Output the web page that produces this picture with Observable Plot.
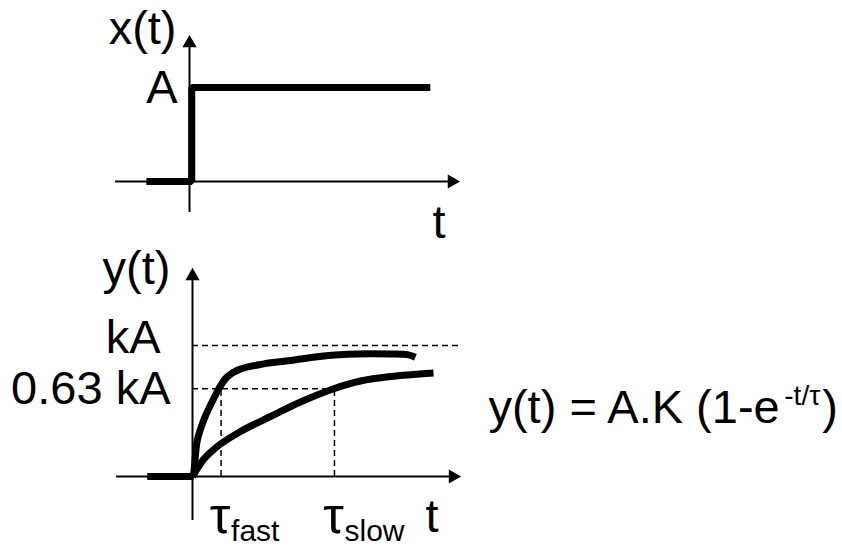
<!DOCTYPE html>
<html><head><meta charset="utf-8">
<script src="https://cdn.jsdelivr.net/npm/d3@7"></script>
<script src="https://cdn.jsdelivr.net/npm/@observablehq/plot@0.6"></script>
<style>body{margin:0;background:#fff} #chart{width:842px;height:547px;overflow:hidden} #chart svg{display:block}</style>
</head><body><div id="chart"></div>
<script>
// ---- data (time in units of tau_fast, amplitude in units of A / kA) ----
const stepT = [-1.54, 0.08, 0.08, 8.6];
const stepX = [0, 0, 1, 1];
const baseT = [-1.6, 0.05];
const fastT = [0, 0.04, 0.17, 0.40, 0.70, 0.94, 1.24, 1.71, 2.55, 3.5, 4.69, 5.88, 7.07, 7.67, 7.96];
const fastY = [0, 0.023, 0.275, 0.43, 0.57, 0.67, 0.76, 0.82, 0.86, 0.885, 0.92, 0.935, 0.935, 0.93, 0.91];
const slowT = [0, 0.393, 0.714, 1.0, 1.714, 2.786, 3.857, 5.071, 6.0, 7.071, 8.607];
const slowY = [0, 0.130, 0.198, 0.248, 0.344, 0.458, 0.569, 0.672, 0.729, 0.763, 0.790];
const levels = [1, 0.67];
const levelLabels = ["kA", "0.63 kA"];
const tauT = [1.02, 5.07];
const tauSubs = ["fast", "slow"];
const formulaParts = ["y(t) = A.K (1-e", "-t/τ", ")"];

const FONT = "'Liberation Sans', Arial, Helvetica, sans-serif";
const FS = 47, SUB = 30, SUP = 28;

const ctx = document.createElement("canvas").getContext("2d");
function tw(s, size) { ctx.font = `${size}px ${FONT}`; return ctx.measureText(s).width; }

const stepData = stepT.map((t, i) => ({t, v: stepX[i]}));
const fastData = fastT.map((t, i) => ({t, v: fastY[i]}));
const slowData = slowT.map((t, i) => ({t, v: slowY[i]}));

const arrow = (x, y, rot) => Plot.dot([0], {x, y, symbol: "triangle2", r: 6.8, rotate: rot, fill: "black"});
const txt = (s, o) => Plot.text([s], {text: d => d, fill: "black", fontSize: FS, ...o});

const topPlot = Plot.plot({
  width: 842, height: 252, margin: 0,
  x: {domain: [-6.75, 23.32], range: [0, 842], axis: null},
  y: {domain: [0, 1], range: [181, 87], axis: null},
  style: {fontFamily: FONT, background: "white", color: "black"},
  marks: [
    Plot.ruleY([0], {x1: -2.64, x2: 9.37, stroke: "black", strokeWidth: 2}),
    Plot.ruleX([0], {y1: -0.33, y2: 1.47, stroke: "black", strokeWidth: 2}),
    arrow(9.37, 0, 90),
    arrow(0, 1.472, 0),
    Plot.line(stepData, {x: "t", y: "v", stroke: "black", strokeWidth: 7, strokeLinejoin: "miter", strokeLinecap: "butt"}),
    txt("x(t)", {x: 0, y: 1.468, dx: -13, textAnchor: "end", lineAnchor: "bottom"}),
    txt("A", {x: 0, y: 1, dx: -12, textAnchor: "end", lineAnchor: "middle"}),
    txt("t", {x: 8.68, y: -0.596, textAnchor: "start", lineAnchor: "bottom"})
  ]
});

const w1 = tw(formulaParts[0], FS), w2 = tw(formulaParts[1], SUP);
const fx = 10.57, fy = 0.405;

const bottomPlot = Plot.plot({
  width: 842, height: 312, margin: 0,
  x: {domain: [-6.857, 23.214], range: [0, 842], axis: null},
  y: {domain: [0, 1], range: [241, 110], axis: null},
  style: {fontFamily: FONT, background: "transparent", color: "black", marginTop: "-17px"},
  marks: [
    Plot.ruleY([levels[0]], {x1: 0, x2: 9.57, stroke: "black", strokeWidth: 1.5, strokeDasharray: "6,4"}),
    Plot.ruleY([levels[1]], {x1: 0, x2: tauT[1], stroke: "black", strokeWidth: 1.5, strokeDasharray: "6,4"}),
    Plot.ruleX(tauT, {y1: 0, y2: levels[1], stroke: "black", strokeWidth: 1.5, strokeDasharray: "6,4"}),
    Plot.ruleY([0], {x1: -2.71, x2: 9.3, stroke: "black", strokeWidth: 2}),
    Plot.ruleX([0], {y1: -0.336, y2: 1.53, stroke: "black", strokeWidth: 2}),
    arrow(9.3, 0, 90),
    arrow(0, 1.53, 0),
    Plot.ruleY([0], {x1: baseT[0], x2: baseT[1], stroke: "black", strokeWidth: 7}),
    Plot.line(fastData, {x: "t", y: "v", stroke: "black", strokeWidth: 7, curve: "catmull-rom", strokeLinecap: "butt"}),
    Plot.line(slowData, {x: "t", y: "v", stroke: "black", strokeWidth: 7, curve: "catmull-rom", strokeLinecap: "butt"}),
    txt("y(t)", {x: 0, y: 1.466, dx: -22, textAnchor: "end", lineAnchor: "bottom"}),
    txt(levelLabels[0], {x: 0, y: levels[0], dx: -32, dy: -8, textAnchor: "end", lineAnchor: "middle"}),
    txt(levelLabels[1], {x: 0, y: levels[1], dx: -22, textAnchor: "end", lineAnchor: "middle"}),
    Plot.text(tauT, {x: d => d, y: -0.435, text: () => "τ", dx: -1, textAnchor: "middle", lineAnchor: "bottom", fontSize: 52, fill: "black"}),
    Plot.text(tauT, {x: d => d, y: -0.49, text: (d, i) => tauSubs[i], dx: 10, textAnchor: "start", lineAnchor: "bottom", fontSize: SUB, fill: "black"}),
    txt("t", {x: 8.32, y: -0.427, textAnchor: "start", lineAnchor: "bottom"}),
    txt(formulaParts[0], {x: fx, y: fy, textAnchor: "start", lineAnchor: "bottom"}),
    txt(formulaParts[1], {x: fx, y: fy, dx: w1 + 2, dy: -18, fontSize: SUP, textAnchor: "start", lineAnchor: "bottom"}),
    txt(formulaParts[2], {x: fx, y: fy, dx: w1 + w2 + 4, textAnchor: "start", lineAnchor: "bottom"})
  ]
});

const root = document.getElementById("chart");
root.appendChild(topPlot);
root.appendChild(bottomPlot);
</script>
</body></html>
